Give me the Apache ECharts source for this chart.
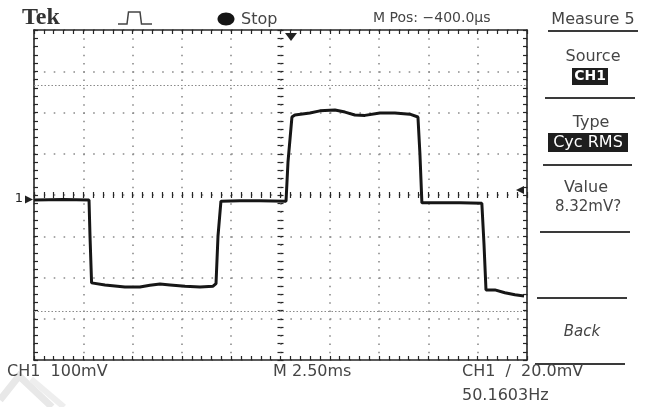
<!DOCTYPE html>
<html><head><meta charset="utf-8">
<script src="https://cdn.jsdelivr.net/npm/echarts@6/dist/echarts.min.js"></script>
<style>html,body{margin:0;padding:0;background:#fff}#c{width:649px;height:407px}</style>
</head><body><div id="c"></div>
<script>
// ---- data (time in ms, voltage in mV) ----
const timeMs = [0, 1.5, 2.79, 2.84, 2.92, 3.60, 4.61, 5.37, 5.88, 6.39, 6.90, 7.66, 8.42, 9.08, 9.23,
  9.33, 9.48, 10.44, 11.46, 12.78, 12.88, 13.08, 13.23, 13.99, 14.50, 15.26, 15.77, 16.27, 16.78, 17.54,
  18.30, 19.06, 19.47, 19.57, 19.67, 20.58, 21.60, 22.71, 22.82, 22.92, 23.37, 23.88, 24.39, 24.85];
const voltageMv = [-12, -11, -12, -100, -213, -218, -223, -223, -219, -216, -218, -221, -223, -221, -215,
  -100, -15, -14, -14, -15, 80, 189, 194, 199, 204, 206, 201, 194, 193, 199,
  199, 196, 189, 100, -19, -19, -19, -20, -120, -230, -230, -237, -242, -245];
const cursorLevelsMv = [267, -281];
const timeRange = [0, 25];      // 10 div x 2.50 ms
const timePerDiv = 2.5;
const voltRange = [-400, 400];  // 8 div x 100 mV
const voltPerDiv = 100;

const headerTexts = ['Tek', 'Stop', 'M Pos: \u2212400.0\u00b5s', 'Measure 5'];
const menuTexts = ['Source', 'CH1', 'Type', 'Cyc RMS', 'Value', '8.32mV?', 'Back'];
const footerTexts = ['CH1  100mV', 'M 2.50ms', 'CH1  /  20.0mV', '50.1603Hz'];

// ---- styles ----
const frameColor = '#262626';
const dotColor = '#8c8c8c';
const textColor = '#454545';
const sans = '"DejaVu Sans", sans-serif';

function tickStyle(len, inside) {
  return {
    axisTick: {show: true, inside: inside, length: len, lineStyle: {color: frameColor, width: 1.2}},
    minorTick: {show: true, splitNumber: 5, length: len, lineStyle: {color: frameColor, width: 1.2}}
  };
}
function xAx(pos, opts) {
  return Object.assign({
    type: 'value', min: timeRange[0], max: timeRange[1], interval: timePerDiv, position: pos,
    axisLine: {show: true, onZero: false, lineStyle: {color: frameColor, width: 1.6}},
    axisLabel: {show: false}, splitLine: {show: false}, minorSplitLine: {show: false}
  }, tickStyle(4, true), opts);
}
function yAx(pos, opts) {
  return Object.assign({
    type: 'value', min: voltRange[0], max: voltRange[1], interval: voltPerDiv, position: pos,
    axisLine: {show: true, onZero: false, lineStyle: {color: frameColor, width: 1.6}},
    axisLabel: {show: false}, splitLine: {show: false}, minorSplitLine: {show: false}
  }, tickStyle(4, true), opts);
}
const gridH = 407 - 30 - 47, gridW = 649 - 34 - 122;
const hiddenLine = {axisLine: {show: false, onZero: false}};

const xAxes = [
  xAx('bottom', {splitLine: {show: true, lineStyle: {color: dotColor, width: 1.6, type: [1.6, 6.65]}}}),
  xAx('top'),
  xAx('bottom', Object.assign({offset: -gridH / 2}, hiddenLine, tickStyle(3, true))),
  xAx('bottom', Object.assign({offset: -gridH / 2}, hiddenLine, tickStyle(3, false)))
];
const yAxes = [
  yAx('left', {splitLine: {show: true, lineStyle: {color: dotColor, width: 1.6, type: [1.6, 8.26]}}}),
  yAx('right'),
  yAx('left', Object.assign({offset: -gridW / 2}, hiddenLine, tickStyle(3, true))),
  yAx('left', Object.assign({offset: -gridW / 2}, hiddenLine, tickStyle(3, false)))
];

function txt(text, x, y, size, align, extra) {
  return {type: 'text', x: x, y: y, silent: true, z: 10,
    style: Object.assign({text: text, font: size + 'px ' + sans, fill: textColor, align: align || 'left', verticalAlign: 'middle'}, extra || {})};
}
function hline(x1, x2, y, w) {
  return {type: 'line', silent: true, shape: {x1: x1, y1: y, x2: x2, y2: y}, style: {stroke: '#3a3a3a', lineWidth: w || 2}};
}

const graphics = [
  // watermark strokes
  {type: 'polyline', silent: true, z: 0, shape: {points: [[0, 400], [19, 376], [52, 407]]}, style: {stroke: '#e8e8e8', lineWidth: 7, fill: null}},
  {type: 'polyline', silent: true, z: 0, shape: {points: [[31, 379], [64, 407]]}, style: {stroke: '#eeeeee', lineWidth: 6, fill: null}},
  // header
  {type: 'text', x: 22, y: 18, silent: true, style: {text: headerTexts[0], font: 'bold 24px "Liberation Serif", serif', fill: '#333', verticalAlign: 'middle'}},
  {type: 'polyline', silent: true, shape: {points: [[118, 24], [127, 24], [128.5, 12], [140, 12], [141.5, 24], [152, 24]]}, style: {stroke: '#444', lineWidth: 1.5, fill: null}},
  {type: 'ellipse', silent: true, shape: {cx: 226, cy: 19, rx: 8.5, ry: 6.5}, style: {fill: '#151515'}},
  txt(headerTexts[1], 241, 19.5, 16),
  txt(headerTexts[2], 373, 18.5, 14),
  txt(headerTexts[3], 593, 19.5, 16, 'center'),
  hline(548, 638, 31),
  // menu panel
  txt(menuTexts[0], 593, 56.5, 16, 'center'),
  {type: 'rect', silent: true, shape: {x: 572, y: 68, width: 36, height: 17}, style: {fill: '#1e1e1e'}},
  txt(menuTexts[1], 590, 76.5, 14, 'center', {fill: '#fff', font: 'bold 14px ' + sans}),
  hline(545, 635, 98),
  txt(menuTexts[2], 591, 122.5, 16, 'center'),
  {type: 'rect', silent: true, shape: {x: 548, y: 133, width: 80, height: 19}, style: {fill: '#1e1e1e'}},
  txt(menuTexts[3], 588, 142.5, 16, 'center', {fill: '#fff'}),
  hline(543, 632, 165),
  txt(menuTexts[4], 586, 187.5, 16, 'center'),
  txt(menuTexts[5], 588, 207, 15, 'center'),
  hline(540, 630, 232),
  hline(537, 627, 298),
  txt(menuTexts[6], 582, 332, 15, 'center', {font: 'italic 15px ' + sans}),
  hline(535, 625, 364),
  // footer
  txt(footerTexts[0], 7, 371.5, 16),
  txt(footerTexts[1], 273, 371.5, 16),
  txt(footerTexts[2], 462, 371.5, 16),
  txt(footerTexts[3], 462, 395.5, 16),
  // channel 1 ground marker
  txt('1', 19, 199, 13, 'center', {fill: '#222'}),
  {type: 'polygon', silent: true, shape: {points: [[25, 195.5], [33, 199.5], [25, 203.5]]}, style: {fill: '#222'}},
  // trigger position marker (top)
  {type: 'polygon', silent: true, shape: {points: [[285, 33], [297, 33], [291, 41]]}, style: {fill: '#222'}},
  // trigger level marker (right)
  {type: 'polygon', silent: true, shape: {points: [[516, 190], [524, 186], [524, 194]]}, style: {fill: '#222'}}
];

const chart = echarts.init(document.getElementById('c'), null, {renderer: 'canvas'});
chart.setOption({
  animation: false,
  backgroundColor: '#ffffff',
  grid: {left: 34, right: 122, top: 30, bottom: 47, containLabel: false},
  xAxis: xAxes,
  yAxis: yAxes,
  series: [{
    type: 'line', xAxisIndex: 0, yAxisIndex: 0, showSymbol: false, smooth: false,
    data: timeMs.map((t, i) => [t, voltageMv[i]]),
    lineStyle: {color: '#161616', width: 3}, z: 5,
    markLine: {silent: true, symbol: 'none', label: {show: false},
      lineStyle: {color: '#8a8a8a', type: [1.5, 2], width: 1.2},
      data: cursorLevelsMv.map(v => ({yAxis: v}))}
  }],
  graphic: graphics
});
</script></body></html>
